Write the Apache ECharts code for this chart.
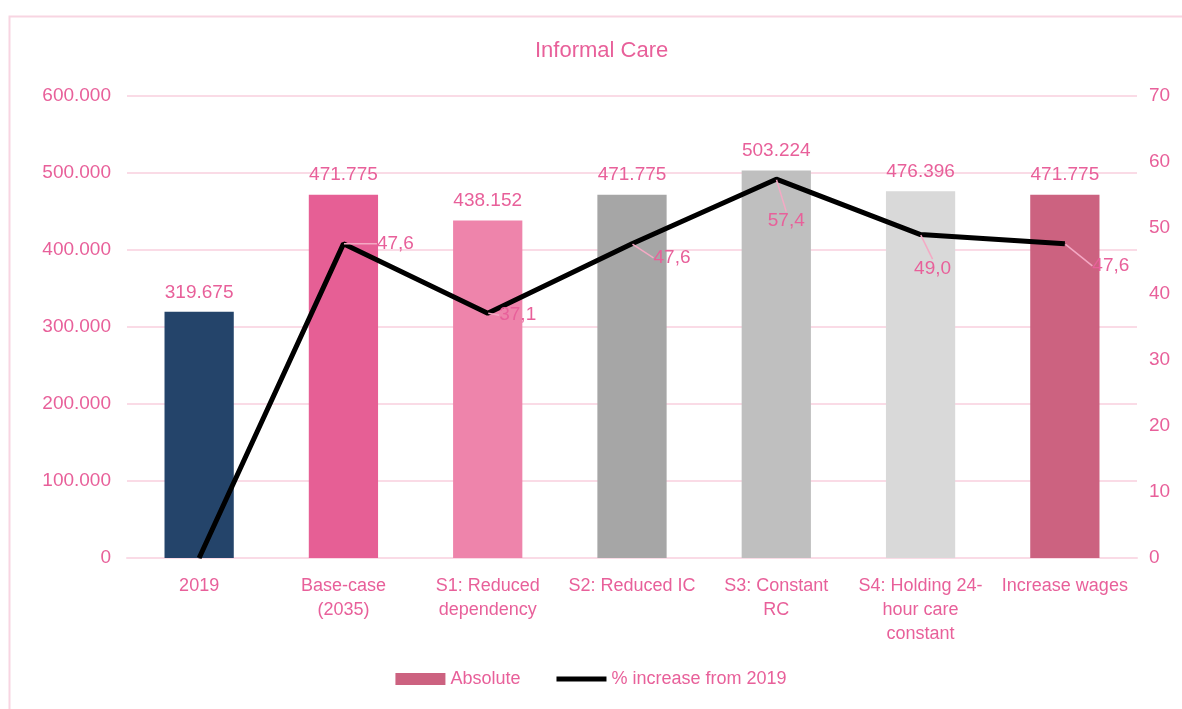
<!DOCTYPE html>
<html>
<head>
<meta charset="utf-8">
<script src="https://cdn.jsdelivr.net/npm/echarts@6/dist/echarts.min.js"></script>
<style>
  html, body { margin: 0; padding: 0; background: #fff; }
  #main { width: 1182px; height: 709px; }
</style>
</head>
<body>
<div id="main"></div>
<script>
// data
var categories = ['2019', 'Base-case (2035)', 'S1: Reduced dependency', 'S2: Reduced IC', 'S3: Constant RC', 'S4: Holding 24-hour care constant', 'Increase wages']
var categoryLabels = ['2019', 'Base-case\n(2035)', 'S1: Reduced\ndependency', 'S2: Reduced IC', 'S3: Constant\nRC', 'S4: Holding 24-\nhour care\nconstant', 'Increase wages']
var absoluteValues = [319675, 471775, 438152, 471775, 503224, 476396, 471775]
var pctIncrease = [0, 47.6, 37.1, 47.6, 57.4, 49.0, 47.6]
var barColors = ['#24446a', '#e65f95', '#ee84ab', '#a6a6a6', '#bfbfbf', '#d9d9d9', '#cc6280']
// label shifts for the % line (Excel placed them by hand)
var pctLabelShifts = [null, [52, 0], [30, 2], [40, 14], [10, 42], [12, 34], [46, 22]]

var pink = '#e8609a'
var gridPink = '#fadbe6'
var font = '"Liberation Sans", sans-serif'

function dotThousands(v) {
  return String(v).replace(/\B(?=(\d{3})+(?!\d))/g, '.')
}

var chart = echarts.init(document.getElementById('main'), null, { renderer: 'canvas' })

var option = {
  backgroundColor: '#fff',
  textStyle: { fontFamily: font },
  title: {
    text: 'Informal Care',
    left: 530,
    top: 35,
    textStyle: { color: pink, fontSize: 22, fontWeight: 'normal', fontFamily: font },
  },
  graphic: [
    {
      type: 'rect',
      left: 7,
      top: 14,
      shape: { width: 1200, height: 720 },
      style: { fill: 'none', stroke: '#f8d5e2', lineWidth: 2 },
      silent: true,
    },
  ],
  legend: {
    bottom: 16,
    left: 'center',
    itemGap: 36,
    textStyle: { color: pink, fontSize: 18, fontFamily: font },
    data: [
      { name: 'Absolute', icon: 'rect', itemStyle: { color: '#cc6280' } },
      { name: '% increase from 2019', icon: 'path://M0,0 L50,0 L50,5 L0,5 Z', itemStyle: { color: '#000' } },
    ],
    itemWidth: 50,
    itemHeight: 12,
  },
  grid: { left: 127, right: 45, top: 96, bottom: 151 },
  xAxis: {
    type: 'category',
    data: categories,
    axisLine: { lineStyle: { color: gridPink, width: 2 } },
    axisTick: { show: false },
    axisLabel: {
      interval: 0,
      color: pink,
      fontSize: 18,
      lineHeight: 24,
      margin: 16,
      fontFamily: font,
      formatter: function (v, i) { return categoryLabels[i] },
    },
  },
  yAxis: [
    {
      type: 'value',
      min: 0,
      max: 600000,
      interval: 100000,
      axisLine: { show: false },
      axisTick: { show: false },
      splitLine: { lineStyle: { color: gridPink, width: 2 } },
      axisLabel: { color: pink, fontSize: 19, margin: 16, fontFamily: font, formatter: dotThousands },
    },
    {
      type: 'value',
      min: 0,
      max: 70,
      interval: 10,
      axisLine: { show: false },
      axisTick: { show: false },
      splitLine: { show: false },
      axisLabel: { color: pink, fontSize: 19, margin: 12, fontFamily: font },
    },
  ],
  series: [
    {
      name: 'Absolute',
      type: 'bar',
      barWidth: '48%',
      data: absoluteValues.map(function (v, i) {
        return { value: v, itemStyle: { color: barColors[i] } }
      }),
      label: {
        show: true,
        position: 'top',
        distance: 10,
        color: pink,
        fontSize: 19,
        fontFamily: font,
        formatter: function (p) { return dotThousands(p.value) },
      },
    },
    {
      name: '% increase from 2019',
      type: 'line',
      yAxisIndex: 1,
      symbol: 'circle',
      symbolSize: 1,
      showSymbol: true,
      z: 5,
      lineStyle: { color: '#000', width: 5 },
      itemStyle: { color: '#000' },
      labelLine: { show: true, lineStyle: { color: '#f4a9c4', width: 1.5 } },
      labelLayout: function (p) {
        var s = pctLabelShifts[p.dataIndex]
        return s ? { dx: s[0], dy: s[1] } : {}
      },
      data: pctIncrease.map(function (v, i) {
        return {
          value: v,
          label: pctLabelShifts[i]
            ? {
                show: true,
                position: 'inside',
                color: pink,
                fontSize: 19,
                fontFamily: font,
                formatter: function (p) { return p.value.toFixed(1).replace('.', ',') },
              }
            : { show: false },
        }
      }),
    },
  ],
}

chart.setOption(option)
</script>
</body>
</html>
